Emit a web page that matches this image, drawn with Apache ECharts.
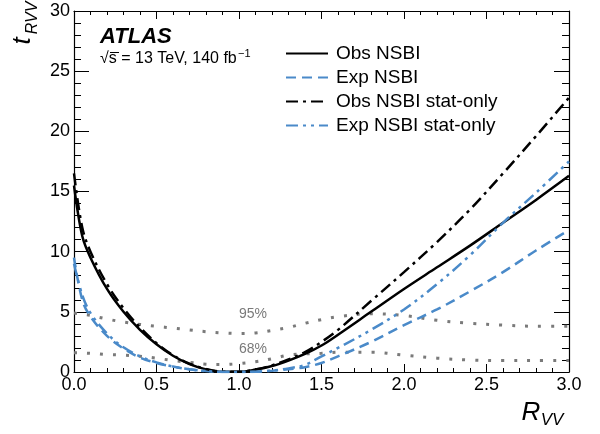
<!DOCTYPE html>
<html>
<head>
<meta charset="utf-8">
<script src="https://cdn.jsdelivr.net/npm/echarts@6/dist/echarts.min.js"></script>
<style>
  html, body { margin: 0; padding: 0; background: #fff; }
  #main { width: 600px; height: 434px; }
</style>
</head>
<body>
<div id="main"></div>
<script>
// scan points in R_VV
var rvv = [0, 0.05, 0.1, 0.2, 0.3, 0.4, 0.5, 0.6, 0.7, 0.8, 0.9, 1.0, 1.1, 1.2, 1.3, 1.4, 1.5, 1.6, 1.8, 2.0, 2.2, 2.4, 2.6, 2.8, 3.0];

var obsNsbi = [15.5, 11.3, 9.5, 6.9, 5.0, 3.5, 2.3, 1.35, 0.65, 0.22, 0.02, 0.02, 0.2, 0.5, 0.95, 1.5, 2.2, 3.1, 5.0, 6.9, 8.7, 10.5, 12.4, 14.3, 16.3];
var expNsbi = [9.5, 6.0, 4.6, 3.0, 1.95, 1.2, 0.75, 0.45, 0.22, 0.08, 0.01, 0.0, 0.02, 0.1, 0.22, 0.4, 0.75, 1.3, 2.5, 3.9, 5.2, 6.7, 8.3, 10.1, 11.8];
var obsStat = [16.5, 12.0, 10.0, 7.3, 5.3, 3.7, 2.4, 1.4, 0.7, 0.25, 0.03, 0.02, 0.2, 0.55, 1.05, 1.65, 2.5, 3.5, 5.9, 8.3, 10.8, 13.5, 16.5, 19.6, 22.8];
var expStat = [9.0, 6.4, 4.9, 3.2, 2.05, 1.3, 0.8, 0.45, 0.22, 0.08, 0.01, 0.0, 0.03, 0.12, 0.3, 0.6, 1.3, 2.0, 3.5, 5.2, 7.3, 9.7, 12.4, 14.9, 17.5];

// confidence level thresholds
var cl95 = [4.9, 4.8, 4.7, 4.4, 4.15, 3.95, 3.8, 3.65, 3.5, 3.35, 3.25, 3.2, 3.25, 3.45, 3.7, 4.05, 4.35, 4.6, 4.85, 4.7, 4.3, 4.05, 3.9, 3.8, 3.8];
var cl68 = [1.6, 1.58, 1.55, 1.45, 1.4, 1.3, 1.15, 0.95, 0.8, 0.65, 0.62, 0.7, 0.85, 1.1, 1.4, 1.5, 1.55, 1.65, 1.65, 1.4, 1.15, 1.0, 0.95, 0.95, 0.95];

var xTicks = [0, 0.5, 1.0, 1.5, 2.0, 2.5, 3.0];
var yTicks = [0, 5, 10, 15, 20, 25, 30];

var FONT = "'Liberation Sans', Arial, sans-serif";
var BLUE = '#4a8ac9';
var GREY = '#7a7a7a';

function pairs(ys) {
    return rvv.map(function (x, i) { return [x, ys[i]]; });
}

function curve(name, ys, color, type, width) {
    return {
        name: name,
        type: 'line',
        smooth: 0.35,
        symbol: 'none',
        lineStyle: { color: color, width: width, type: type, cap: 'butt' },
        itemStyle: { color: color },
        z: 3,
        data: pairs(ys)
    };
}

var chart = echarts.init(document.getElementById('main'));

var axisCommon = {
    type: 'value',
    axisLine: { show: true, onZero: false, lineStyle: { color: '#000', width: 1.2 } },
    splitLine: { show: false }
};

var option = {
    animation: false,
    grid: { left: 74, right: 31, top: 11, bottom: 62 },
    legend: {
        orient: 'vertical',
        left: 280,
        top: 39,
        itemWidth: 42,
        itemHeight: 14,
        itemGap: 5,
        itemStyle: { opacity: 0 },
        textStyle: { fontFamily: FONT, fontSize: 19, color: '#000', padding: [0, 0, 0, 3] },
        data: ['Obs NSBI', 'Exp NSBI', 'Obs NSBI stat-only', 'Exp NSBI stat-only']
    },
    xAxis: [
        Object.assign({}, axisCommon, {
            min: 0, max: 3, interval: 0.5,
            axisTick: { inside: true, length: 8, lineStyle: { color: '#000' } },
            minorTick: { show: true, splitNumber: 5, length: 4, lineStyle: { color: '#000' } },
            axisLabel: {
                color: '#000', fontFamily: FONT, fontSize: 18, margin: 4,
                formatter: function (v) { return xTicks.indexOf(v) >= 0 ? v.toFixed(1) : ''; }
            }
        }),
        Object.assign({}, axisCommon, {
            position: 'top',
            min: 0, max: 3, interval: 0.5,
            axisTick: { inside: true, length: 8, lineStyle: { color: '#000' } },
            minorTick: { show: true, splitNumber: 5, length: 4, lineStyle: { color: '#000' } },
            axisLabel: { show: false }
        })
    ],
    yAxis: [
        Object.assign({}, axisCommon, {
            min: 0, max: 30, interval: 5,
            axisTick: { inside: true, length: 15, lineStyle: { color: '#000' } },
            minorTick: { show: true, splitNumber: 5, length: 7, lineStyle: { color: '#000' } },
            axisLabel: {
                color: '#000', fontFamily: FONT, fontSize: 18, margin: 4,
                formatter: function (v) { return yTicks.indexOf(v) >= 0 ? String(v) : ''; }
            }
        }),
        Object.assign({}, axisCommon, {
            position: 'right',
            min: 0, max: 30, interval: 5,
            axisTick: { inside: true, length: 15, lineStyle: { color: '#000' } },
            minorTick: { show: true, splitNumber: 5, length: 7, lineStyle: { color: '#000' } },
            axisLabel: { show: false }
        })
    ],
    graphic: [
        { type: 'text', x: 100, y: 26, style: { text: 'ATLAS', font: 'italic bold 22px ' + FONT, fill: '#000' } },
        { type: 'text', x: 100, y: 51, style: { text: '\u221As = 13 TeV, 140 fb', font: '16px ' + FONT, fill: '#000' } },
        { type: 'text', x: 238, y: 48, style: { text: '\u22121', font: '11px ' + FONT, fill: '#000' } },
        { type: 'line', shape: { x1: 110, y1: 52.5, x2: 119, y2: 52.5 }, style: { stroke: '#000', lineWidth: 1 } },
        { type: 'text', x: 23, y: 41, rotation: Math.PI / 2,
          style: { text: 't', font: 'italic 26px ' + FONT, fill: '#000', textAlign: 'center', textVerticalAlign: 'middle' } },
        { type: 'text', x: 33, y: 18, rotation: Math.PI / 2,
          style: { text: 'RVV', font: 'italic 16px ' + FONT, fill: '#000', textAlign: 'center', textVerticalAlign: 'middle' } },
        { type: 'text', x: 531, y: 413, style: { text: 'R', font: 'italic 26px ' + FONT, fill: '#000', textAlign: 'center', textVerticalAlign: 'middle' } },
        { type: 'text', x: 552, y: 420, style: { text: 'VV', font: 'italic 17px ' + FONT, fill: '#000', textAlign: 'center', textVerticalAlign: 'middle' } },
        { type: 'text', x: 253, y: 314, style: { text: '95%', font: '14px ' + FONT, fill: GREY, textAlign: 'center', textVerticalAlign: 'middle' } },
        { type: 'text', x: 253, y: 349, style: { text: '68%', font: '14px ' + FONT, fill: GREY, textAlign: 'center', textVerticalAlign: 'middle' } }
    ],
    series: [
        {
            name: '95% CL', type: 'line', smooth: 0.35, symbol: 'none', z: 2,
            lineStyle: { color: GREY, width: 3, type: [3, 10], cap: 'butt' },
            data: pairs(cl95)
        },
        {
            name: '68% CL', type: 'line', smooth: 0.35, symbol: 'none', z: 2,
            lineStyle: { color: GREY, width: 3, type: [3, 10], cap: 'butt' },
            data: pairs(cl68)
        },
        curve('Obs NSBI', obsNsbi, '#000', 'solid', 2.5),
        curve('Exp NSBI', expNsbi, BLUE, [10, 6], 2.5),
        curve('Obs NSBI stat-only', obsStat, '#000', [12, 5, 3, 5], 2.5),
        curve('Exp NSBI stat-only', expStat, BLUE, [12, 5, 3, 5, 3, 5], 2.5)
    ]
};

chart.setOption(option);
</script>
</body>
</html>
